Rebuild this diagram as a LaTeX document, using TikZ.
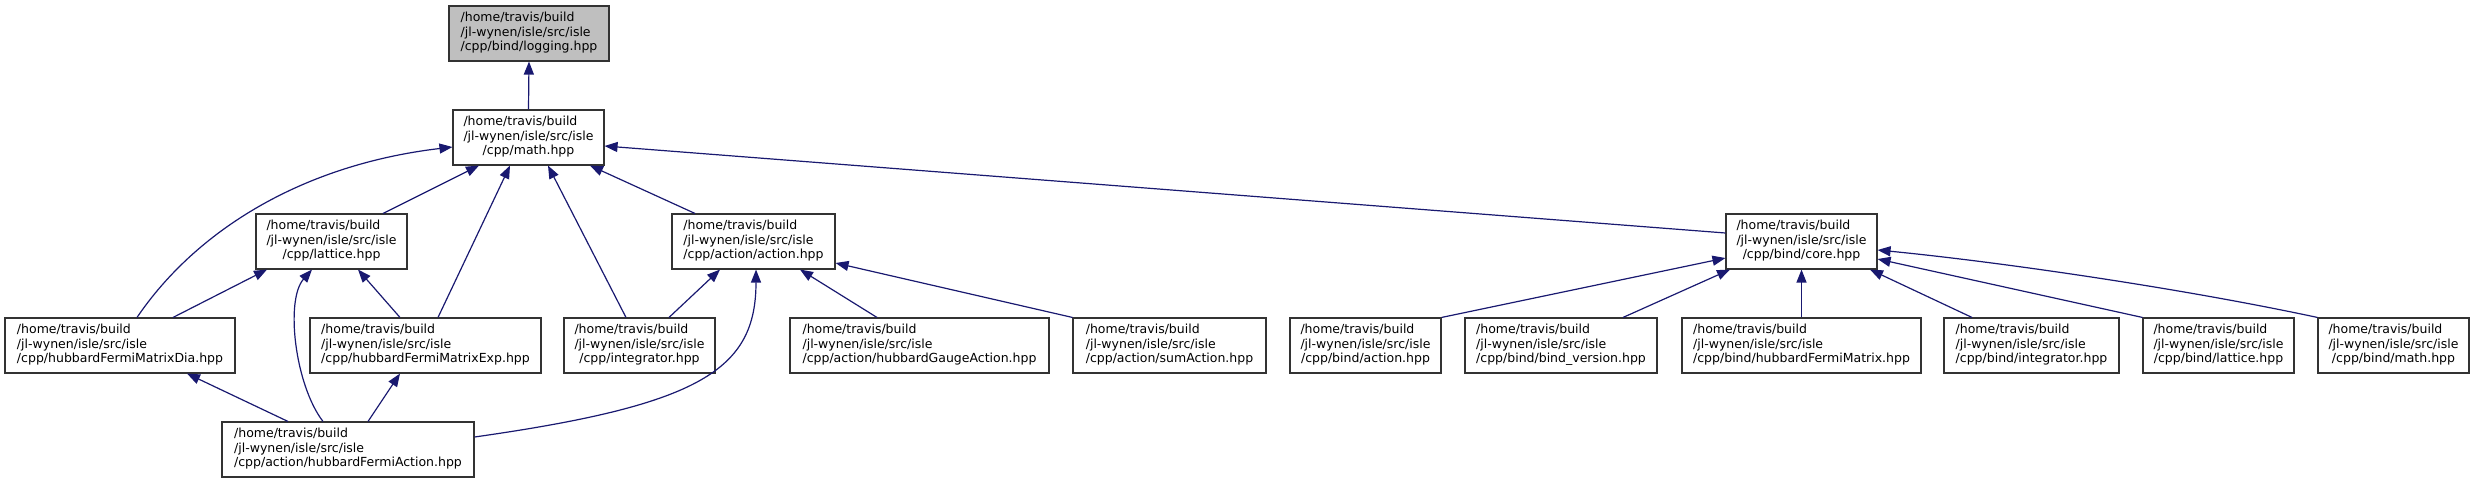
\documentclass[tikz,border=0pt]{standalone}
\usepackage{fontspec}
\newfontfamily\dvs{DejaVu Sans}
\usetikzlibrary{arrows.meta}
\definecolor{edgeblue}{HTML}{191970}
\definecolor{nodegray}{HTML}{BFBFBF}
\definecolor{boxline}{HTML}{333333}
\newcommand{\fpath}[1]{\begin{tabular}{@{}l@{}}/home/travis/build\\/jl-wynen/isle/src/isle\\\multicolumn{1}{@{}c@{}}{#1}\end{tabular}}
\begin{document}
\begin{tikzpicture}[x=1pt,y=-1pt,
 fnode/.style={draw=boxline, line width=1.1pt, fill=white, minimum height=55pt, inner sep=0pt, font=\dvs\fontsize{12.5}{14.5}\selectfont},
 dep/.style={draw=edgeblue, line width=1.2pt, -{Triangle[length=13pt,width=10pt]}}]
\useasboundingbox (0,0) rectangle (2474,483);
% row 0
\node[fnode, fill=nodegray, minimum width=160pt] (logging) at (529,33.5) {\fpath{/cpp/bind/logging.hpp}};
% row 1
\node[fnode, minimum width=151pt] (math) at (528.5,137.5) {\fpath{/cpp/math.hpp}};
% row 2
\node[fnode, minimum width=151pt] (lattice) at (331.5,241.5) {\fpath{/cpp/lattice.hpp}};
\node[fnode, minimum width=163pt] (action) at (753.5,241.5) {\fpath{/cpp/action/action.hpp}};
\node[fnode, minimum width=151pt] (core) at (1801.5,241.5) {\fpath{/cpp/bind/core.hpp}};
% row 3
\node[fnode, minimum width=230pt] (dia) at (120,345.5) {\fpath{/cpp/hubbardFermiMatrixDia.hpp}};
\node[fnode, minimum width=231pt] (exp) at (425.5,345.5) {\fpath{/cpp/hubbardFermiMatrixExp.hpp}};
\node[fnode, minimum width=151pt] (integ) at (639.5,345.5) {\fpath{/cpp/integrator.hpp}};
\node[fnode, minimum width=259pt] (gauge) at (919.5,345.5) {\fpath{/cpp/action/hubbardGaugeAction.hpp}};
\node[fnode, minimum width=193pt] (sum) at (1169.5,345.5) {\fpath{/cpp/action/sumAction.hpp}};
\node[fnode, minimum width=151pt] (baction) at (1365.5,345.5) {\fpath{/cpp/bind/action.hpp}};
\node[fnode, minimum width=192pt] (bver) at (1561,345.5) {\fpath{/cpp/bind/bind\_version.hpp}};
\node[fnode, minimum width=239pt] (bhfm) at (1801.5,345.5) {\fpath{/cpp/bind/hubbardFermiMatrix.hpp}};
\node[fnode, minimum width=175pt] (binteg) at (2031.5,345.5) {\fpath{/cpp/bind/integrator.hpp}};
\node[fnode, minimum width=151pt] (blat) at (2218.5,345.5) {\fpath{/cpp/bind/lattice.hpp}};
\node[fnode, minimum width=151pt] (bmath) at (2393.5,345.5) {\fpath{/cpp/bind/math.hpp}};
% row 4
\node[fnode, minimum width=252pt] (hfa) at (348,449.5) {\fpath{/cpp/action/hubbardFermiAction.hpp}};
% edges
\draw[dep] (math.north) -- (logging.south);
\draw[dep] ([xshift=51.5pt]lattice.north) -- ([xshift=-49.5pt]math.south);
\draw[dep] ([xshift=17pt]dia.north) .. controls (195,232) and (300,165) .. ([yshift=-9.5pt]math.west);
\draw[dep] ([xshift=12.5pt]exp.north) -- ([xshift=-18.5pt]math.south);
\draw[dep] ([xshift=-13.5pt]integ.north) -- ([xshift=19.5pt]math.south);
\draw[dep] ([xshift=-58.5pt]action.north) -- ([xshift=61.5pt]math.south);
\draw[dep] ([yshift=8.5pt]core.west) -- ([yshift=-8.5pt]math.east);
\draw[dep] ([xshift=53pt]dia.north) -- ([xshift=-64.5pt]lattice.south);
\draw[dep] ([xshift=-25pt]hfa.north) .. controls (295,385) and (285,300) .. ([xshift=-19.5pt]lattice.south);
\draw[dep] ([xshift=-25.5pt]exp.north) -- ([xshift=26.5pt]lattice.south);
\draw[dep] ([xshift=-60pt]hfa.north) -- ([xshift=67pt]dia.south);
\draw[dep] ([xshift=20pt]hfa.north) -- ([xshift=-25.5pt]exp.south);
\draw[dep] ([yshift=12.5pt]hfa.east) .. controls (700,405) and (756,370) .. ([xshift=2.5pt]action.south);
\draw[dep] ([xshift=29.5pt]integ.north) -- ([xshift=-33.5pt]action.south);
\draw[dep] ([xshift=-42.5pt]gauge.north) -- ([xshift=46.5pt]action.south);
\draw[dep] (sum.north west) -- ([yshift=-21.5pt]action.east);
\draw[dep] (baction.north east) -- ([yshift=-16.5pt]core.west);
\draw[dep] ([xshift=62pt]bver.north) -- ([xshift=-71.5pt]core.south);
\draw[dep] (bhfm.north) -- (core.south);
\draw[dep] ([xshift=-59.5pt]binteg.north) -- ([xshift=68.5pt]core.south);
\draw[dep] (blat.north west) -- ([yshift=-17.5pt]core.east);
\draw[dep] (bmath.north west) .. controls (2180,288) and (2000,262) .. ([yshift=-8.5pt]core.east);
\end{tikzpicture}
\end{document}
